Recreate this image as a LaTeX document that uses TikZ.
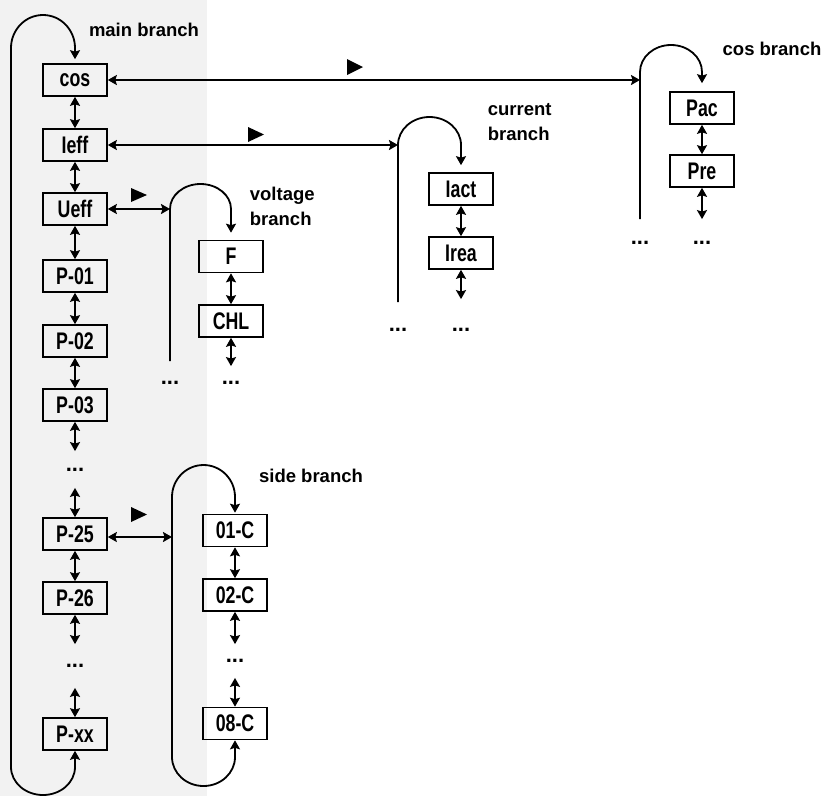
\documentclass[tikz,border=0pt]{standalone}
\usepackage{fontspec}
\setmainfont{Liberation Sans}
\newfontfamily\boxfont[FakeStretch=0.74]{Liberation Sans}
\usetikzlibrary{arrows.meta}
\definecolor{bggray}{RGB}{242,242,242}
\begin{document}
\begin{tikzpicture}[x=1pt,y=-1pt,
  line width=1.8pt,
  >={Stealth[length=9pt,width=10pt,inset=1.5pt]},
  box/.style={draw, line width=1.6pt, minimum width=64pt, minimum height=32pt, inner sep=0pt,
    font={\fontsize{24}{26}\boxfont\bfseries}},
  lbl/.style={inner sep=0pt, font={\fontsize{18.5}{25}\bfseries\selectfont}},
  dotn/.style={inner sep=0pt, minimum width=18pt, font={\fontsize{22}{22}\bfseries\selectfont}},
  tri/.style={fill=black, draw=none}
]
\useasboundingbox (0,0) rectangle (827,796);
\fill[bggray] (0,0) rectangle (207,796);

% ---------- main branch ----------
\node[box] (cos)  at (75,80)  {cos};
\node[box] (Ieff) at (75,145) {Ieff};
\node[box] (Ueff) at (75,209) {Ueff};
\node[box] (P01)  at (75,276) {P-01};
\node[box] (P02)  at (75,341) {P-02};
\node[box] (P03)  at (75,405) {P-03};
\node[dotn, minimum height=35pt] (md1) at (75,469.5) {...};
\node[box] (P25)  at (75,534) {P-25};
\node[box] (P26)  at (75,598) {P-26};
\node[dotn, minimum height=42pt] (md2) at (75,666) {...};
\node[box] (Pxx)  at (75,734) {P-xx};

\draw[<->] (cos) -- (Ieff);
\draw[<->] (Ieff) -- (Ueff);
\draw[<->] (Ueff) -- (P01);
\draw[<->] (P01) -- (P02);
\draw[<->] (P02) -- (P03);
\draw[<->] (P03) -- (md1);
\draw[<->] (md1) -- (P25);
\draw[<->] (P25) -- (P26);
\draw[<->] (P26) -- (md2);
\draw[<->] (md2) -- (Pxx);

\coordinate (mA) at (11,48);
\coordinate (mB) at (11,767);
\draw[->, shorten >=4pt] (mB) -- (mA) arc[start angle=180,end angle=0,x radius=32pt,y radius=33pt] -- (cos.north);
\draw[->] (mB) arc[start angle=180,end angle=360,x radius=32pt,y radius=28pt] -- (Pxx.south);
\node[lbl, anchor=base] (lmain) at (144,36) {main branch};

% ---------- cos branch ----------
\node[box] (Pac) at (702,108) {Pac};
\node[box] (Pre) at (702,171) {Pre};
\node[dotn, minimum height=46pt] (cd2) at (702,243) {...};
\node[dotn, minimum height=46pt] (cd1) at (640,243) {...};
\coordinate (cA) at (640,72);
\coordinate (cJ) at (640,80);
\draw[->, shorten >=8pt] (cd1) -- (cA) arc[start angle=180,end angle=0,x radius=31pt,y radius=27pt] -- (Pac.north);
\draw[<->] (Pac) -- (Pre);
\draw[<->] (Pre) -- (cd2);
\draw[<->] (cos) -- (cJ);
\fill[tri] (347,59) -- (363,67) -- (347,75) -- cycle;
\node[lbl, anchor=base] (lcos) at (772,55) {cos branch};

% ---------- current branch ----------
\node[box] (Iact) at (461,189) {Iact};
\node[box] (Irea) at (461,253) {Irea};
\node[dotn, minimum height=60pt] (id2) at (461,330) {...};
\node[dotn, minimum height=54pt] (id1) at (398,330) {...};
\coordinate (iA) at (398,145);
\draw[->, shorten >=7pt] (id1) -- (iA) arc[start angle=180,end angle=0,x radius=31.5pt,y radius=28pt] -- (Iact.north);
\draw[<->] (Iact) -- (Irea);
\draw[<->] (Irea) -- (id2);
\draw[<->] (Ieff) -- (iA);
\fill[tri] (248,127) -- (264,134.5) -- (248,142) -- cycle;
\node[lbl, anchor=base west] (lcur1) at (487,115) {current};
\node[lbl, anchor=base west] (lcur2) at (487,140) {branch};

% ---------- voltage branch ----------
\node[box] (F)   at (231,256.5) {F};
\node[box] (CHL) at (231,321) {CHL};
\node[dotn, minimum height=32pt] (vd2) at (231,383) {...};
\node[dotn, minimum height=42pt] (vd1) at (170,383) {...};
\coordinate (vA) at (170,209);
\draw[->, shorten >=7pt] (vd1) -- (vA) arc[start angle=180,end angle=0,x radius=30.5pt,y radius=25pt] -- (F.north);
\draw[<->] (F) -- (CHL);
\draw[<->] (CHL) -- (vd2);
\draw[<->] (Ueff) -- (vA);
\fill[tri] (131,188) -- (147,195) -- (131,202) -- cycle;
\node[lbl, anchor=base west] (lvol1) at (249,200) {voltage};
\node[lbl, anchor=base west] (lvol2) at (249,225) {branch};

% ---------- side branch ----------
\node[box] (C01) at (235,530.5) {01-C};
\node[box] (C02) at (235,595) {02-C};
\node[dotn, minimum height=32pt] (sd) at (235,661) {...};
\node[box] (C08) at (235,723.5) {08-C};
\coordinate (sA) at (172,497);
\coordinate (sB) at (172,757);
\coordinate (sJ) at (172,537);
\draw[->, shorten >=1pt] (sB) -- (sA) arc[start angle=180,end angle=0,x radius=31.5pt,y radius=32pt] -- (C01.north);
\draw[->] (sB) arc[start angle=180,end angle=360,x radius=31.5pt,y radius=29pt] -- (C08.south);
\draw[<->] (C01) -- (C02);
\draw[<->] (C02) -- (sd);
\draw[<->] (sd) -- (C08);
\draw[<->] (P25.east |- sJ) -- (sJ);
\fill[tri] (131,507) -- (147,514.5) -- (131,522) -- cycle;
\node[lbl, anchor=base] (lside) at (311,482) {side branch};
\end{tikzpicture}
\end{document}
